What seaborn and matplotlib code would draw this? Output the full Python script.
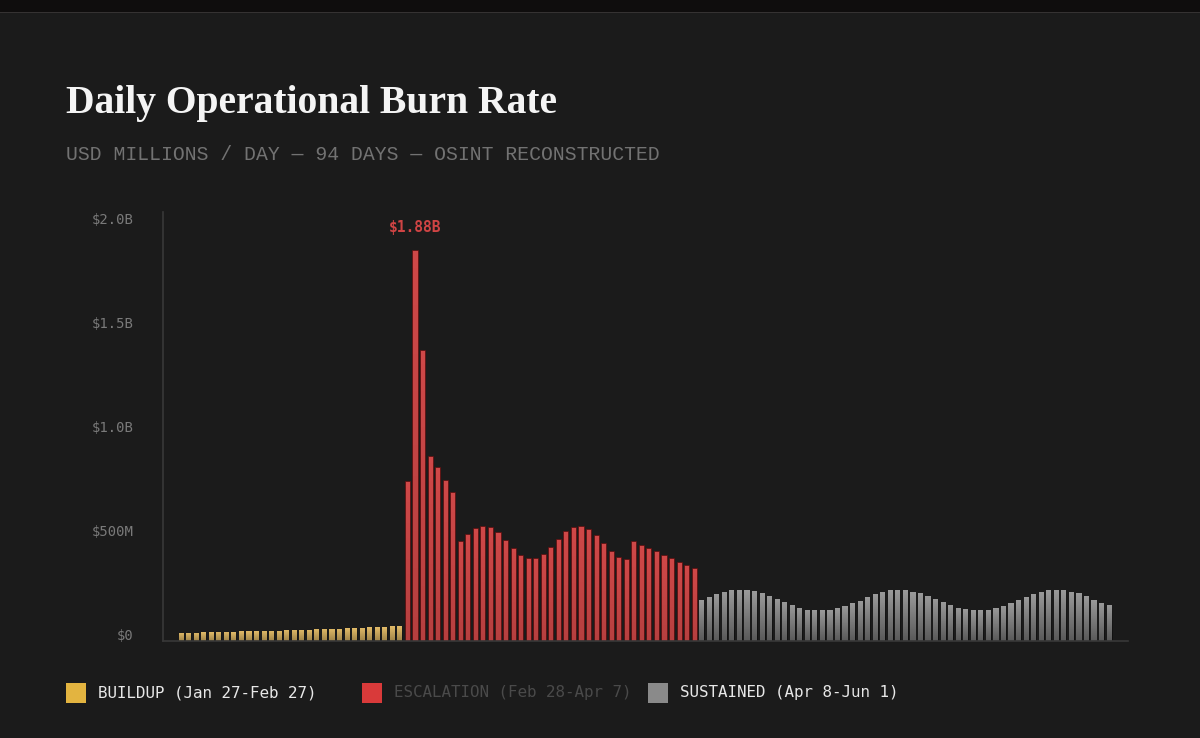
import numpy as np
import pandas as pd
import matplotlib
matplotlib.use("Agg")
import matplotlib.pyplot as plt
import matplotlib.transforms as mtransforms
from matplotlib.colors import LinearSegmentedColormap
from matplotlib.patches import Rectangle
import seaborn as sns

# daily burn, USD millions
buildup = [40, 40, 40, 42, 42, 45, 45, 43, 47, 47, 47, 50, 50, 50, 53,
           53, 55, 55, 58, 58, 59, 59, 62, 62, 64, 66, 66, 66, 72, 72]
escalation = [771, 1880, 1398, 892, 836, 775, 718, 479, 514, 542, 554, 550, 526,
              487, 447, 413, 399, 399, 418, 453, 490, 527, 550, 554, 538, 510,
              469, 431, 405, 394, 479, 461, 447, 431, 413, 399, 382, 366, 353]
sustained = [196, 212, 225, 236, 244, 246, 244, 240, 230, 218, 202, 188, 175, 161,
             151, 148, 148, 151, 158, 170, 182, 194, 211, 225, 236, 244, 247, 244,
             238, 230, 217, 202, 188, 174, 161, 152, 148, 148, 151, 159, 170, 182,
             196, 211, 225, 236, 244, 247, 244, 236, 230, 216, 199, 185, 174]

phases = ["BUILDUP", "ESCALATION", "SUSTAINED"]
legend_labels = ["BUILDUP (Jan 27-Feb 27)", "ESCALATION (Feb 28-Apr 7)",
                 "SUSTAINED (Apr 8-Jun 1)"]
bar_colors = ["#e2bb68", "#cf4848", "#9a9a9a"]
swatch_colors = ["#e3b440", "#d93a3a", "#8a8a8a"]
ytick_vals = [0, 500, 1000, 1500, 2000]
ytick_labels = ["$0", "$500M", "$1.0B", "$1.5B", "$2.0B"]

values = buildup + escalation + sustained
df = pd.DataFrame({
    "day": np.arange(len(values)),
    "value": values,
    "phase": [phases[0]] * len(buildup) + [phases[1]] * len(escalation)
             + [phases[2]] * len(sustained),
})

BG = "#1b1b1b"
sns.set_theme(style="dark", rc={"axes.facecolor": BG, "figure.facecolor": BG})
plt.rcParams["font.family"] = ["DejaVu Sans Mono", "DejaVu Sans"]

fig = plt.figure(figsize=(12, 7.38), dpi=100, facecolor=BG)
# darker frame strip along the top, like the screenshot
fig.patches.append(Rectangle((0, 1 - 12 / 738), 1, 12 / 738, transform=fig.transFigure,
                             facecolor="#0f0d0d", edgecolor="none", zorder=0))
fig.patches.append(Rectangle((0, 1 - 13 / 738), 1, 1.2 / 738, transform=fig.transFigure,
                             facecolor="#353232", edgecolor="none", zorder=0))

ax = fig.add_axes([163 / 1200, 1 - 641 / 738, 965 / 1200, 429 / 738])
sns.barplot(data=df, x="day", y="value", hue="phase", hue_order=phases,
            palette=dict(zip(phases, bar_colors)), dodge=False, width=0.68,
            saturation=1, errorbar=None, legend=False, linewidth=0, ax=ax)

# thin dark edges on the red phase
shade_max = {"BUILDUP": 0.3, "ESCALATION": 0.12, "SUSTAINED": 0.42}
grad = np.linspace(0, 1, 64).reshape(-1, 1)
for cont, ph in zip(ax.containers, phases):
    shade = LinearSegmentedColormap.from_list(
        "shade", [(0, 0, 0, 0.0), (0, 0, 0, shade_max[ph])])
    for p in cont:
        if ph == "ESCALATION":
            p.set_edgecolor("#5a0c0c")
            p.set_linewidth(0.5)
        x0, w, h = p.get_x(), p.get_width(), p.get_height()
        ax.imshow(grad, cmap=shade, extent=[x0, x0 + w, 0, h], aspect="auto",
                  origin="upper", zorder=p.get_zorder() + 0.1, clip_path=p)

ax.set_xlim(-2.4, 125.5)
ax.set_ylim(0, 2063)
ax.set_xticks([])
ax.set_xlabel("")
ax.set_ylabel("")
ax.set_yticks(ytick_vals)
ax.set_yticklabels(ytick_labels)
ax.tick_params(axis="y", length=0, pad=21, labelsize=10, labelcolor="#7a7a7a")
ax.grid(False)
for side in ["top", "right"]:
    ax.spines[side].set_visible(False)
for side in ["left", "bottom"]:
    ax.spines[side].set_visible(True)
    ax.spines[side].set_color("#383838")
    ax.spines[side].set_linewidth(1.2)

shift = mtransforms.Affine2D().translate(0, 7)
for lbl in ax.get_yticklabels():
    lbl.set_transform(lbl.get_transform() + shift)

# peak annotation
peak_idx = int(np.argmax(values))
ax.annotate(f"${values[peak_idx] / 1000:.2f}B", xy=(peak_idx, values[peak_idx]),
            xytext=(0, 16), textcoords="offset points", ha="center", va="center",
            fontsize=10.5, fontweight="bold", color="#d04444")

# titles
fig.text(66 / 1200, 1 - 113 / 738, "Daily Operational Burn Rate",
         family="Liberation Serif", fontweight="bold", fontsize=28.5,
         color="#f4f4f4", va="baseline", ha="left")
fig.text(66 / 1200, 1 - 160 / 738, "USD MILLIONS / DAY — 94 DAYS — OSINT RECONSTRUCTED",
         family="Liberation Mono", fontsize=14.2, color="#727272",
         va="baseline", ha="left")

# legend
sw_x = [66, 362, 648]
txt_colors = ["#e8e8e8", "#4a4a4a", "#e8e8e8"]
for x, c, lab, tc in zip(sw_x, swatch_colors, legend_labels, txt_colors):
    fig.patches.append(Rectangle((x / 1200, 1 - 703 / 738), 20 / 1200, 20 / 738,
                                 transform=fig.transFigure, facecolor=c,
                                 edgecolor="none"))
    fig.text((x + 32) / 1200, 1 - 693 / 738, lab, fontsize=11.4, color=tc,
             va="center", ha="left")

fig.savefig("out.png", dpi=100, facecolor=BG)
